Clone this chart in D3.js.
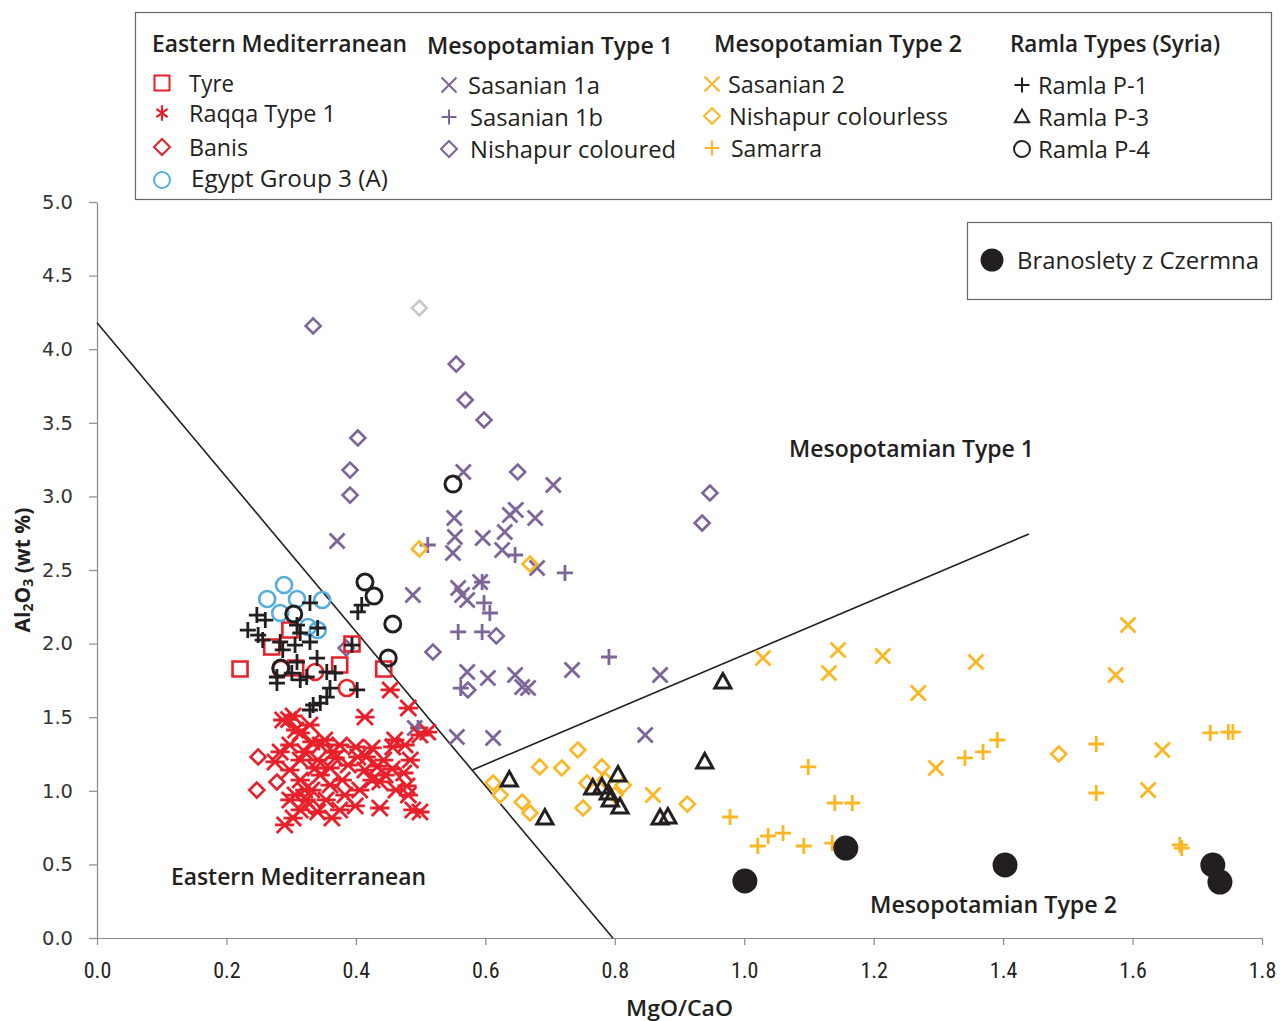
<!DOCTYPE html>
<html><head><meta charset="utf-8">
<script src="https://cdn.jsdelivr.net/npm/d3@7"></script>
<style>body{margin:0;background:#fff}svg{display:block}</style>
</head><body>
<svg id="c" width="1280" height="1021"></svg>
<script>
// ---- DATA ----
const xTicks = [0.0,0.2,0.4,0.6,0.8,1.0,1.2,1.4,1.6,1.8];
const yTicks = [0.0,0.5,1.0,1.5,2.0,2.5,3.0,3.5,4.0,4.5,5.0];
const tyre = [[0.221,1.827],[0.270,1.977],[0.298,2.092],[0.307,1.834],[0.375,1.855],[0.394,1.997],[0.443,1.827]];
const redCircles = [[0.284,1.827],[0.337,1.807],[0.386,1.698]];
const raqqa = [[0.303,1.508],[0.287,1.481],[0.314,1.393],[0.332,1.332],[0.352,1.345],[0.375,1.311],[0.400,1.298],[0.416,1.230],[0.434,1.168],[0.456,1.148],[0.474,1.121],[0.479,1.033],[0.437,1.060],[0.406,1.005],[0.379,1.073],[0.360,1.155],[0.341,1.209],[0.321,1.264],[0.298,1.311],[0.283,1.264],[0.275,1.196],[0.298,1.141],[0.314,1.073],[0.332,1.005],[0.354,0.938],[0.375,0.870],[0.314,0.870],[0.298,0.938],[0.290,0.768],[0.303,0.815],[0.323,0.938],[0.345,1.107],[0.368,1.223],[0.388,1.175],[0.414,1.141],[0.425,1.073],[0.445,1.107],[0.462,1.005],[0.481,0.971],[0.499,0.856],[0.399,0.897],[0.437,0.883],[0.488,0.870],[0.307,1.413],[0.329,1.447],[0.345,1.311],[0.365,1.264],[0.403,1.230],[0.425,1.291],[0.443,1.209],[0.314,1.209],[0.337,1.155],[0.360,1.039],[0.383,0.971],[0.341,0.856],[0.363,0.815],[0.321,1.005],[0.306,0.971],[0.460,1.345],[0.476,1.311],[0.499,1.379],[0.511,1.399],[0.414,1.501],[0.453,1.685],[0.481,1.562],[0.484,1.209],[0.457,1.298],[0.296,1.485]];
const banis = [[0.249,1.230],[0.278,1.060],[0.247,1.005],[0.334,0.883]];
const egypt = [[0.263,2.303],[0.289,2.398],[0.309,2.303],[0.348,2.296],[0.283,2.208],[0.326,2.113],[0.341,2.092]];
const sas1a = [[0.371,2.697],[0.488,2.330],[0.566,3.166],[0.705,3.077],[0.552,2.853],[0.638,2.874],[0.647,2.908],[0.677,2.853],[0.553,2.724],[0.596,2.717],[0.550,2.615],[0.630,2.758],[0.626,2.636],[0.680,2.514],[0.558,2.378],[0.564,2.330],[0.572,2.296],[0.592,2.418],[0.572,1.807],[0.604,1.766],[0.646,1.787],[0.657,1.705],[0.666,1.698],[0.734,1.821],[0.870,1.787],[0.556,1.365],[0.612,1.359],[0.847,1.379],[0.491,1.427]];
const sas1b = [[0.511,2.670],[0.646,2.602],[0.723,2.480],[0.598,2.276],[0.607,2.208],[0.558,2.079],[0.595,2.079],[0.791,1.909],[0.595,2.418],[0.562,1.698],[0.496,1.427]];
const nishCol = [[0.334,4.158],[0.555,3.899],[0.569,3.655],[0.598,3.519],[0.403,3.397],[0.391,3.179],[0.391,3.009],[0.650,3.166],[0.947,3.023],[0.935,2.819],[0.519,1.943],[0.617,2.052],[0.573,1.685],[0.385,1.970]];
const greyDiamond = [[0.498,4.280]];
const sas2 = [[1.029,1.902],[1.145,1.957],[1.131,1.800],[1.214,1.916],[1.358,1.875],[1.269,1.664],[1.296,1.155],[0.859,0.971],[1.593,2.126],[1.574,1.787],[1.646,1.277],[1.624,1.005]];
const nishLess = [[0.498,2.643],[0.669,2.541],[0.612,1.053],[0.623,0.971],[0.657,0.924],[0.669,0.849],[0.684,1.162],[0.718,1.155],[0.743,1.277],[0.780,1.162],[0.757,1.053],[0.751,0.883],[0.813,1.039],[0.912,0.910],[1.486,1.250],[0.800,0.971],[0.785,1.073]];
const samarra = [[1.099,1.162],[0.978,0.822],[1.140,0.917],[1.167,0.917],[1.021,0.625],[1.037,0.693],[1.060,0.713],[1.092,0.625],[1.136,0.645],[1.341,1.223],[1.369,1.264],[1.391,1.345],[1.544,1.318],[1.544,0.985],[1.720,1.393],[1.748,1.399],[1.755,1.399],[1.673,0.632],[1.676,0.611]];
const ramlaP1 = [[0.329,2.276],[0.247,2.194],[0.260,2.160],[0.233,2.092],[0.249,2.058],[0.256,2.024],[0.283,2.011],[0.309,2.126],[0.314,2.072],[0.329,2.011],[0.341,2.106],[0.306,1.990],[0.287,1.957],[0.309,1.875],[0.340,1.902],[0.355,1.807],[0.368,1.800],[0.278,1.773],[0.278,1.732],[0.301,1.800],[0.314,1.753],[0.324,1.773],[0.360,1.698],[0.355,1.637],[0.345,1.596],[0.334,1.583],[0.329,1.549],[0.402,1.685],[0.394,1.990],[0.403,2.215],[0.409,2.262]];
const ramlaP3 = [[0.967,1.739],[0.637,1.073],[0.692,0.815],[0.939,1.196],[0.805,1.107],[0.766,1.019],[0.780,1.026],[0.790,0.985],[0.793,0.938],[0.808,0.890],[0.870,0.815],[0.882,0.822]];
const ramlaP4 = [[0.550,3.084],[0.414,2.418],[0.428,2.323],[0.457,2.133],[0.450,1.902],[0.304,2.201],[0.284,1.834]];
const branoslety = [[1.001,0.387],[1.157,0.611],[1.403,0.496],[1.724,0.496],[1.735,0.380]];
const boundary1 = [[0.0,4.18],[0.797,0.0]];
const boundary2 = [[0.579,1.14],[1.44,2.745]];

// ---- STYLE ----
const RED="#e8202a", PUR="#7d6599", ORA="#fbb723", BLU="#55addb", BLK="#231f20", GRY="#c8c8c8";
const svg = d3.select("#c");
const x = d3.scaleLinear().domain([0,1.8]).range([97,1262]);
const y = d3.scaleLinear().domain([0,5]).range([938,202]);
const FONT = "'Open Sans','Noto Sans',sans-serif";

// axes
const ax = svg.append("g").attr("transform","translate(0,938)")
  .call(d3.axisBottom(x).tickValues(xTicks).tickFormat(d3.format(".1f")).tickSize(7).tickSizeOuter(0));
ax.selectAll("text").attr("font-family","'Roboto','Liberation Sans',sans-serif").attr("font-size",22).attr("fill",BLK).attr("y",24).attr("dy","0.71em").style("font-stretch","condensed");
const ay = svg.append("g").attr("transform","translate(97,0)")
  .call(d3.axisLeft(y).tickValues(yTicks).tickFormat(d3.format(".1f")).tickSize(8).tickSizeOuter(0));
ay.selectAll("text").attr("font-family","'DejaVu Sans',sans-serif").attr("font-size",19.5).attr("fill","#333").attr("x",-24);
svg.selectAll(".domain, .tick line").attr("stroke","#8a8a8a").attr("stroke-width",1.2);

// boundary lines
const line = d3.line().x(d=>x(d[0])).y(d=>y(d[1]));
[boundary1,boundary2].forEach(b=>svg.append("path").attr("d",line(b)).attr("stroke",BLK).attr("stroke-width",1.6).attr("fill","none"));

// marker generators (paths centered at 0,0)
const M = {
  square: s=>`M${-s},${-s}H${s}V${s}H${-s}Z`,
  diamond: s=>`M0,${-s}L${s},0L0,${s}L${-s},0Z`,
  x: s=>`M${-s},${-s}L${s},${s}M${-s},${s}L${s},${-s}`,
  plus: s=>`M${-s},0H${s}M0,${-s}V${s}`,
  star: s=>`M${-s},${-s}L${s},${s}M${-s},${s}L${s},${-s}M${-s*1.2},0H${s*1.2}`,
  starV: s=>`M${-s*0.8},${-s*0.6}L${s*0.8},${s*0.6}M${-s*0.8},${s*0.6}L${s*0.8},${-s*0.6}M0,${-s*1.1}V${s*1.1}`,
  tri: s=>`M0,${-s}L${s*0.95},${s*0.7}L${-s*0.95},${s*0.7}Z`,
  circle: s=>`M${s},0A${s},${s} 0 1,1 ${-s},0A${s},${s} 0 1,1 ${s},0Z`
};
function draw(data, shape, size, color, sw, fill){
  svg.append("g").selectAll("path").data(data).join("path")
    .attr("transform",d=>`translate(${x(d[0])},${y(d[1])})`)
    .attr("d",M[shape](size)).attr("fill",fill||"none")
    .attr("stroke",fill?"none":color).attr("stroke-width",sw);
}
draw(greyDiamond,"diamond",7.5,GRY,2.6);
draw(nishCol,"diamond",7.5,PUR,2.6);
draw(sas1a,"x",7.5,PUR,2.8);
draw(sas1b,"plus",8,PUR,2.8);
draw(tyre,"square",7.5,RED,2.6);
draw(banis,"diamond",7.5,RED,2.6);
draw(redCircles,"circle",8,RED,2.6);
draw(raqqa,"star",8,RED,2.8);
draw(egypt,"circle",8,BLU,2.6);
draw(nishLess,"diamond",7.5,ORA,2.6);
draw(sas2,"x",7.5,ORA,2.8);
draw(samarra,"plus",8,ORA,2.8);
draw(ramlaP4,"circle",8,BLK,3);
draw(ramlaP1,"plus",8,BLK,2.8);
draw(ramlaP3,"tri",8.5,BLK,3);
draw(branoslety,"circle",12.5,BLK,0,BLK);

// text helper
function txt(t,px,py,opt){
  const e = svg.append("text").attr("x",px).attr("y",py).attr("font-family",FONT)
    .attr("font-size",opt.size||23).attr("font-weight",opt.bold?600:400).attr("fill",BLK)
    .attr("dominant-baseline","central").text(t);
  if(opt.w) e.attr("textLength",opt.w).attr("lengthAdjust","spacingAndGlyphs");
  if(opt.anchor) e.attr("text-anchor",opt.anchor);
  return e;
}
// region labels
txt("Mesopotamian Type 1",789,447,{bold:1,size:24,w:245});
txt("Eastern Mediterranean",171,875,{bold:1,size:24,w:255});
txt("Mesopotamian Type 2",870,903,{bold:1,size:24,w:247});

// axis titles
txt("MgO/CaO",626,1007,{bold:1,size:22,w:107});
const yt = svg.append("text").attr("transform","translate(22,570) rotate(-90)").attr("text-anchor","middle")
  .attr("dominant-baseline","central").attr("font-family",FONT).attr("font-weight",700).attr("font-size",21).attr("fill",BLK);
yt.append("tspan").text("Al");
yt.append("tspan").text("2").attr("font-size",14).attr("dy",5);
yt.append("tspan").text("O").attr("dy",-5);
yt.append("tspan").text("3").attr("font-size",14).attr("dy",5);
yt.append("tspan").text(" (wt %)").attr("dy",-5);

// legend box
svg.append("rect").attr("x",135.5).attr("y",12.5).attr("width",1136).attr("height",187).attr("fill","none").attr("stroke","#666").attr("stroke-width",1.2);
const heads = [["Eastern Mediterranean",152,42,255],["Mesopotamian Type 1",427,44,246],["Mesopotamian Type 2",714,42,248],["Ramla Types (Syria)",1010,42,210]];
heads.forEach(h=>txt(h[0],h[1],h[2],{bold:1,size:24,w:h[3]}));
// [label, shape, colour, markerX, rowY, textX, textWidth]
const legItems = [
  ["Tyre","square",RED,162,83,189,45],["Raqqa Type 1","starV",RED,162,113,189,147],["Banis","diamond",RED,162,147,189,59],["Egypt Group 3 (A)","circle",BLU,162,178,191,197],
  ["Sasanian 1a","x",PUR,449,85,468,132],["Sasanian 1b","plus",PUR,449,117,470,133],["Nishapur coloured","diamond",PUR,449,149,470,206],
  ["Sasanian 2","x",ORA,712,84,728,117],["Nishapur colourless","diamond",ORA,712,116,729,219],["Samarra","plus",ORA,712,148,731,91],
  ["Ramla P-1","plus",BLK,1022,85,1038,110],["Ramla P-3","tri",BLK,1022,117,1038,111],["Ramla P-4","circle",BLK,1022,149,1038,112]
];
const legSize = {square:7.5,starV:7,diamond:8,circle:8,x:7.5,plus:7.5,tri:7.5};
legItems.forEach(l=>{
  svg.append("path").attr("transform",`translate(${l[3]},${l[4]+(l[1]==="circle"&&l[2]===BLU?2:0)})`).attr("d",M[l[1]](legSize[l[1]]))
    .attr("fill","none").attr("stroke",l[2]).attr("stroke-width",l[1]==="starV"?2.2:2);
  txt(l[0],l[5],l[4],{size:23,w:l[6]});
});
// second legend
svg.append("rect").attr("x",967.5).attr("y",222.5).attr("width",304).attr("height",77).attr("fill","#fff").attr("stroke","#666").attr("stroke-width",1.2);
svg.append("circle").attr("cx",992).attr("cy",260).attr("r",11.5).attr("fill",BLK);
txt("Branoslety z Czermna",1017,260,{size:23,w:242});
</script>
</body></html>
